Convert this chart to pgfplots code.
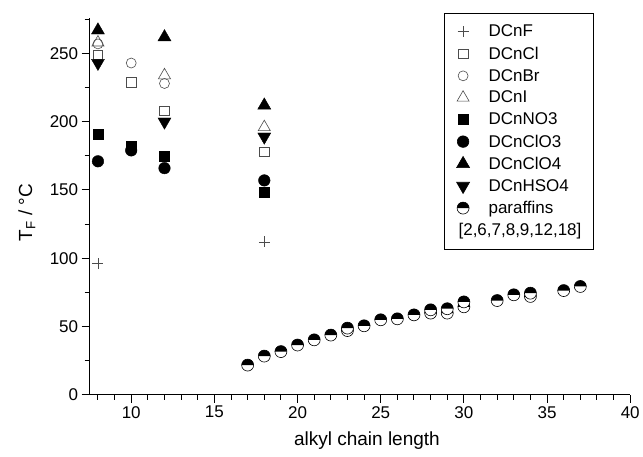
\documentclass[border=0pt]{standalone}
\usepackage{fontspec}
\setmainfont{Liberation Sans}
\usepackage{pgfplots}
\pgfplotsset{compat=1.18}

% half filled circle: black top, white bottom
\pgfdeclareplotmark{halfcirc}{%
  \pgfpathcircle{\pgfpointorigin}{\pgfplotmarksize}%
  \pgfsetfillcolor{white}%
  \pgfusepathqfill
  \pgfpathmoveto{\pgfqpoint{\pgfplotmarksize}{0pt}}%
  \pgfpatharc{0}{180}{\pgfplotmarksize}%
  \pgfpathclose
  \pgfsetfillcolor{black}%
  \pgfusepathqfill
  \pgfpathcircle{\pgfpointorigin}{\pgfplotmarksize}%
  \pgfusepathqstroke
}

\colorlet{opengray}{black!70}

\begin{document}
\begin{tikzpicture}
\begin{axis}[
  name=ax,
  scale only axis,
  width=541pt, height=377pt,
  xmin=7.5, xmax=40, ymin=0, ymax=276,
  axis lines*=left,
  axis line style={line width=1.1pt},
  xtick={10,15,...,40},
  minor xtick={8,...,40},
  ytick={0,50,...,250},
  minor ytick={25,75,...,275},
  tick align=outside,
  major tick length=8pt,
  minor tick length=5pt,
  tick style={line width=1pt, black},
  ticklabel style={font=\fontsize{17}{20}\selectfont},
  /pgf/number format/assume math mode=true,
  xlabel={alkyl chain length},
  ylabel={T\textsubscript{F} / °C},
  every axis x label/.style={at={(axis description cs:0.513,-0.122)}, anchor=center,
    font=\fontsize{19}{22}\selectfont},
  every axis y label/.style={at={(axis description cs:-0.116,0.483)}, rotate=90, anchor=center,
    font=\fontsize{19}{22}\selectfont},
  legend style={at={(rel axis cs:0.656,1.014)}, anchor=north west,
    draw=black, line width=0.6pt, font=\fontsize{17}{20}\selectfont,
    row sep=4.5pt, inner xsep=10pt, inner ysep=10pt,
    /tikz/column 1/.style={column sep=17pt}},
  legend cell align=left,
  clip=false,
]
\addplot[only marks, mark=+, mark size=5.5pt, opengray, line width=0.6pt]
  coordinates {(8,96) (18,112)};
\addlegendentry{DCnF}
\addplot[only marks, mark=square, mark size=4.8pt, opengray, line width=0.6pt]
  coordinates {(8,249) (10,229) (12,208) (18,178)};
\addlegendentry{DCnCl}
\addplot[only marks, mark=o, mark size=5pt, opengray, line width=0.6pt]
  coordinates {(8,257) (10,243) (12,228)};
\addlegendentry{DCnBr}
\addplot[only marks, mark=triangle, mark size=7pt, opengray, line width=0.6pt]
  coordinates {(8,258) (12,234) (18,196)};
\addlegendentry{DCnI}
\addplot[only marks, mark=square*, mark size=5pt, black]
  coordinates {(8,191) (10,182) (12,175) (18,148)};
\addlegendentry{DCnNO3}
\addplot[only marks, mark=*, mark size=5.8pt, black]
  coordinates {(8,171) (10,179) (12,166) (18,157)};
\addlegendentry{DCnClO3}
\addplot[only marks, mark=triangle*, mark size=7.5pt, black]
  coordinates {(8,267) (12,262) (18,212)};
\addlegendentry{DCnClO4}
\addplot[only marks, mark=triangle*, mark size=7.5pt, black, mark options={rotate=180}]
  coordinates {(8,243) (12,200) (18,189)};
\addlegendentry{DCnHSO4}
\addplot[only marks, mark=halfcirc, mark size=6pt, black, line width=0.6pt]
  coordinates {
    (17,21.7) (18,28.3) (19,31.6) (20,36.4) (21,40.2) (22,43.7)
    (23,47.0) (23,48.8) (24,50.5) (25,54.9) (26,55.6) (27,58.5)
    (28,59.8) (28,62.2) (29,59.8) (29,63.0) (30,64.4) (30,68.0)
    (32,69.0) (33,73.2) (34,72.0) (34,74.4) (36,76.3) (37,79.3)
  };
\addlegendentry{paraffins}
\addlegendimage{empty legend}
\addlegendentry{\hspace*{-30pt}[2,6,7,8,9,12,18]}
\end{axis}
\path ([xshift=-89.7pt,yshift=-62pt]ax.south west) rectangle ([xshift=12pt,yshift=18pt]ax.north east);
\end{tikzpicture}
\end{document}
